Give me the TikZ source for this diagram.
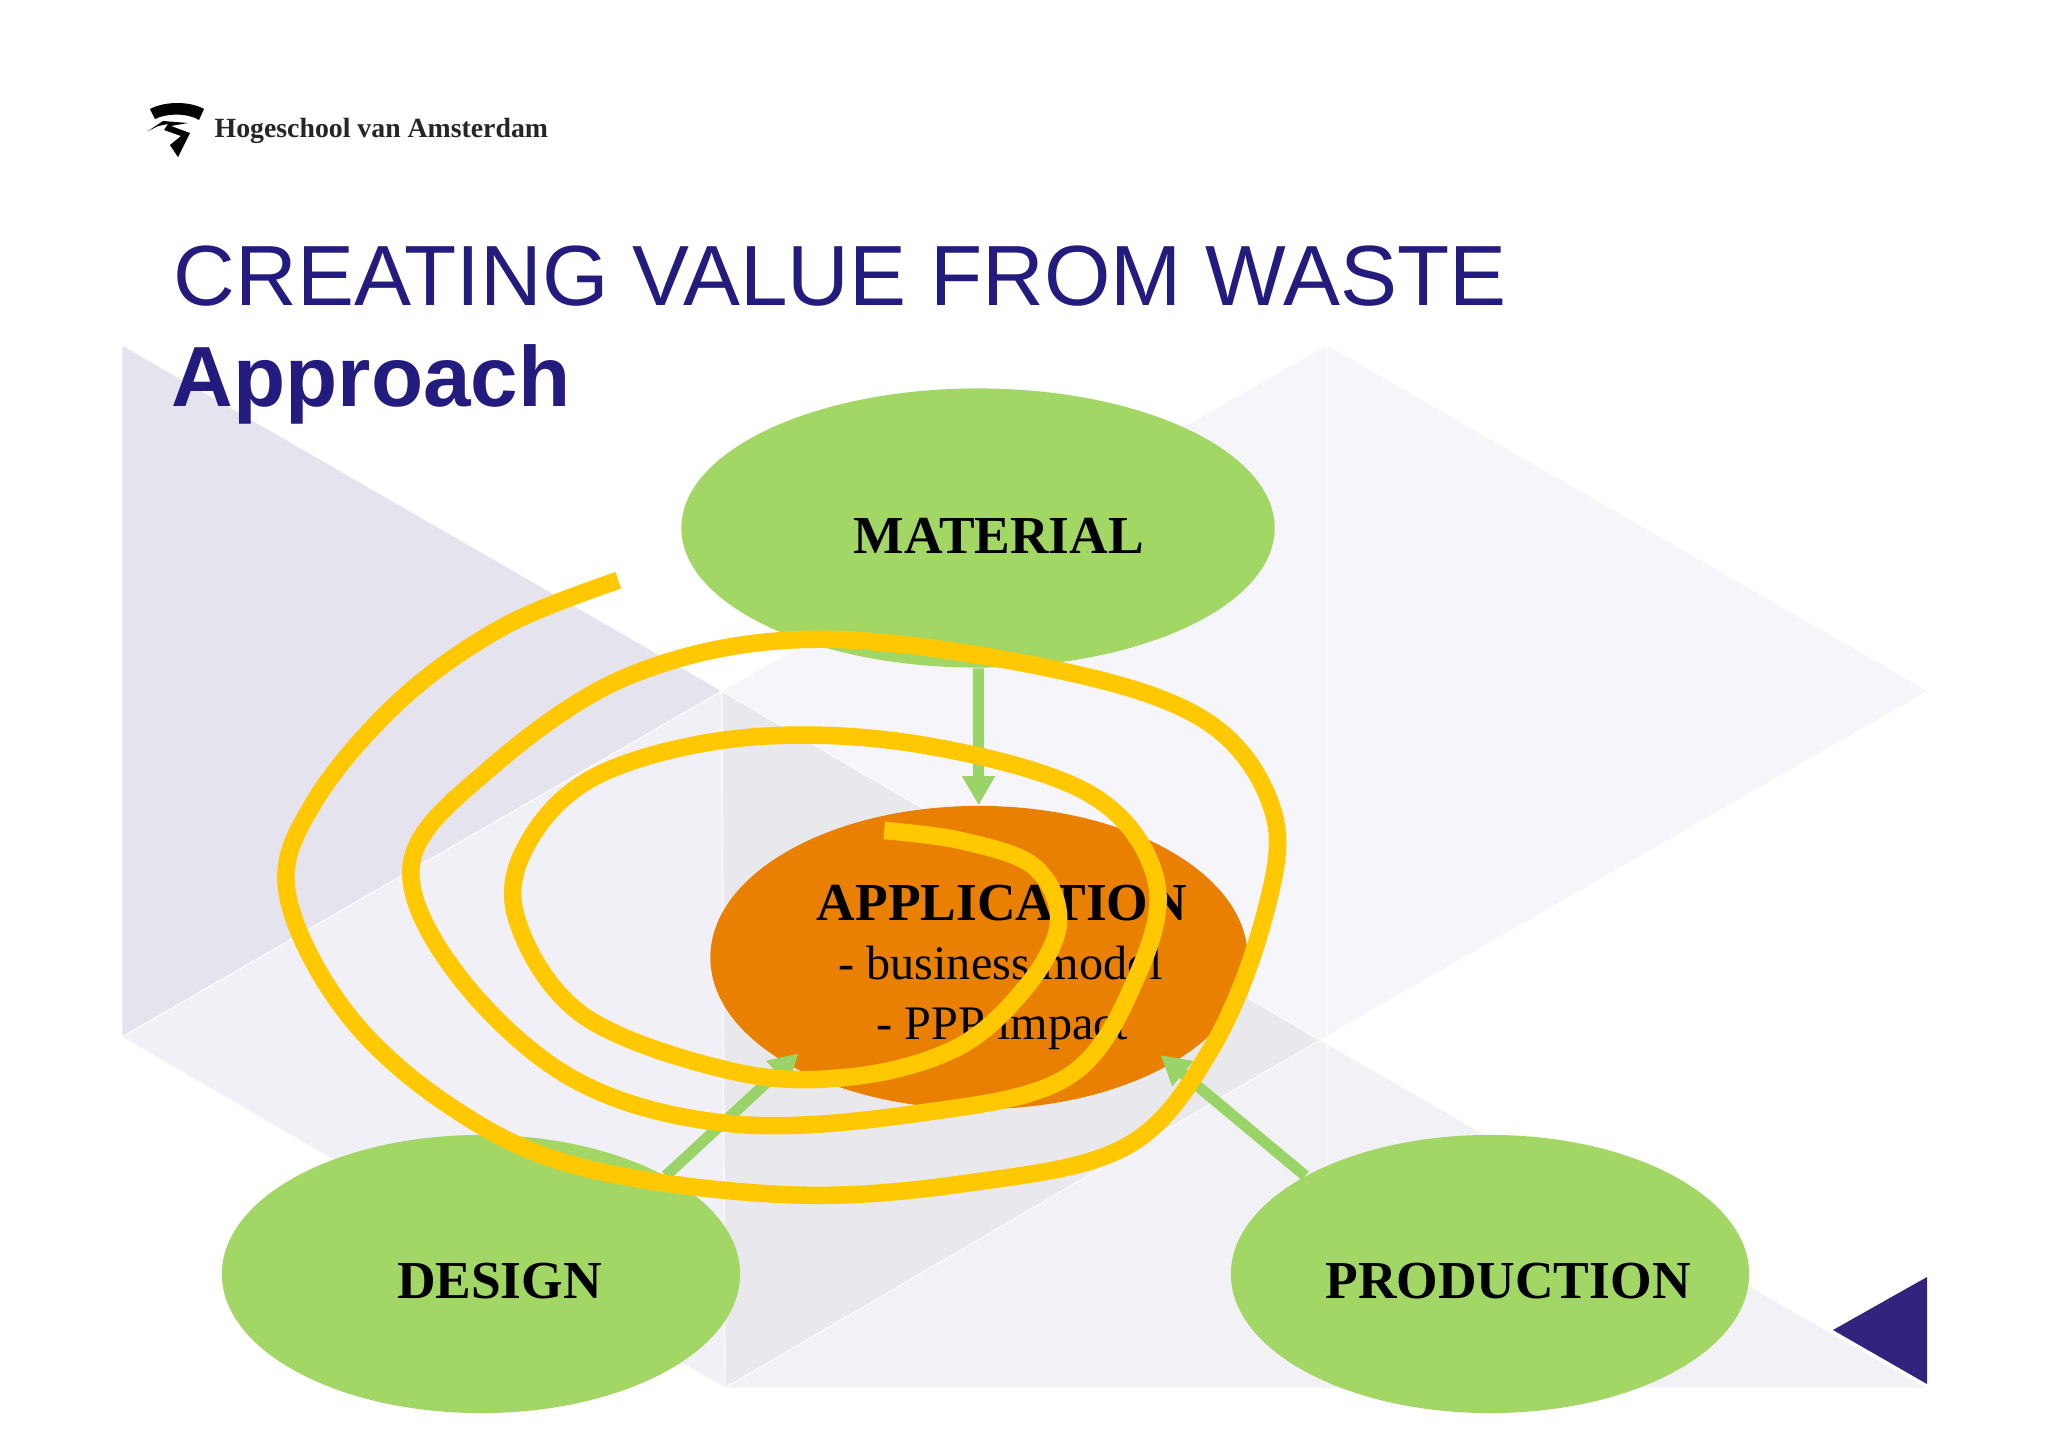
\documentclass[tikz,border=0pt]{standalone}
\usepackage{fontspec}
\setmainfont{Liberation Serif}
\newfontfamily\titlefont{Liberation Sans}
\usetikzlibrary{shapes.geometric, arrows.meta}
\definecolor{leaf}{HTML}{A2D665}
\definecolor{flow}{HTML}{9AD468}
\definecolor{ember}{HTML}{E98002}
\definecolor{marker}{HTML}{FFC800}
\definecolor{navy}{HTML}{241B7E}
\definecolor{wedge}{HTML}{32237F}

\begin{document}
\begin{tikzpicture}[
x=0.01cm, y=-0.01cm,
facet/.style={draw=white, draw opacity=0.6, line width=0.4pt},
blob/.style={ellipse, inner sep=0pt, fill=leaf},
corelabel/.style={align=center, anchor=base, inner sep=0pt, font=\fontsize{13.7}{16}\selectfont},
headlabel/.style={corelabel, font=\fontsize{15.2}{18}\selectfont\bfseries},
slidetitle/.style={anchor=base west, inner sep=0pt, text=navy, font=\titlefont\fontsize{24.3}{29}\selectfont},
flowline/.style={draw=flow, line width=0.11cm, -{Triangle[width=0.31cm, length=0.29cm]}},
spiral/.style={draw=marker, line width=0.175cm, line join=round},
]
\useasboundingbox (0,0) rectangle (2048,1448);
\fill[white] (0,0) rectangle (2048,1448);
\filldraw[facet, fill={rgb,255:red,228;green,227;blue,238}] (122,345) -- (122,1037) -- (722,691) -- cycle;
\filldraw[facet, fill={rgb,255:red,242;green,240;blue,247}] (122,1037) -- (722,691) -- (725,1388) -- cycle;
\filldraw[facet, fill={rgb,255:red,233;green,233;blue,237}] (722,691) -- (1320,1040) -- (725,1388) -- cycle;
\filldraw[facet, fill={rgb,255:red,246;green,245;blue,249}] (722,691) -- (1327,345) -- (1928,691) -- (1320,1040) -- cycle;
\filldraw[facet, fill={rgb,255:red,242;green,241;blue,246}] (725,1388) -- (1320,1040) -- (1927,1388) -- cycle;
\draw[white, opacity=0.5] (1327,345) -- (1327,1388);
\fill[wedge] (1833,1330) -- (1927,1277) -- (1927,1384) -- cycle;

\fill[black] (150,109) .. controls (165,101) and (190,101) .. (204,109) -- (199,120) .. controls (188,113) and (167,113) .. (155,119) -- cycle;
\fill[black] (148,131) -- (163,121) -- (188,123) -- (171,126) -- (190,133) -- (178,157) -- (170,145) -- (181,136) -- (164,130) -- (168,124) -- (158,126) -- cycle;
\node[anchor=base west, inner sep=0pt, font=\fontsize{7.9}{10}\selectfont\bfseries, text=black!85] (school) at (214,137) {Hogeschool van Amsterdam};

\node[slidetitle] (title) at (173,305) {CREATING VALUE FROM WASTE};
\node[slidetitle, font=\titlefont\fontsize{24.3}{29}\selectfont\bfseries] (approach) at (171,406) {Approach};

\node[blob, minimum width=5.93cm, minimum height=2.79cm] (material) at (978,528) {};
\node[blob, minimum width=5.18cm, minimum height=2.78cm] (design) at (481,1274) {};
\node[blob, minimum width=5.18cm, minimum height=2.78cm] (production) at (1490,1274) {};
\node[blob, fill=ember, minimum width=5.37cm, minimum height=3.03cm] (application) at (979,957.5) {};

\draw[flowline] (material) -- (application);
\draw[flowline, shorten >=-0.16cm] (design.28) -- (application.209.6);
\draw[flowline, shorten >=-0.14cm] (production.152) -- (application.331);

\node[headlabel] (materiallabel) at (999,553) {MATERIAL};
\node[headlabel] (designlabel) at (499.5,1298) {DESIGN};
\node[headlabel] (productionlabel) at (1508,1298) {PRODUCTION};
\node[headlabel] (applicationlabel) at (1002,920.5) {APPLICATION};
\node[corelabel] (modellabel) at (1000.5,979.5) {- business model};
\node[corelabel] (impactlabel) at (1002.5,1039.5) {- PPP impact};

\begin{scope}[x=0.013095cm, y=-0.013095cm]
\draw[spiral] plot[smooth, tension=0.6] coordinates {
	(472,443) (385,478) (305,535) (240,612) (219,680) (262,770) (340,842) (440,890) (600,912)
	(740,903) (860,875) (925,800) (965,700) (972,620) (920,550) (800,510) (620,488)
	(480,516) (370,590) (314,660) (350,745) (440,825) (560,858) (700,850) (815,822)
	(868,745) (882,670) (830,605) (700,568) (570,563) (460,590) (405,640) (394,700)
	(445,775) (560,818) (650,822) (730,800) (782,755) (808,705) (790,662) (735,642) (675,634)
};
\end{scope}
\end{tikzpicture}
\end{document}
